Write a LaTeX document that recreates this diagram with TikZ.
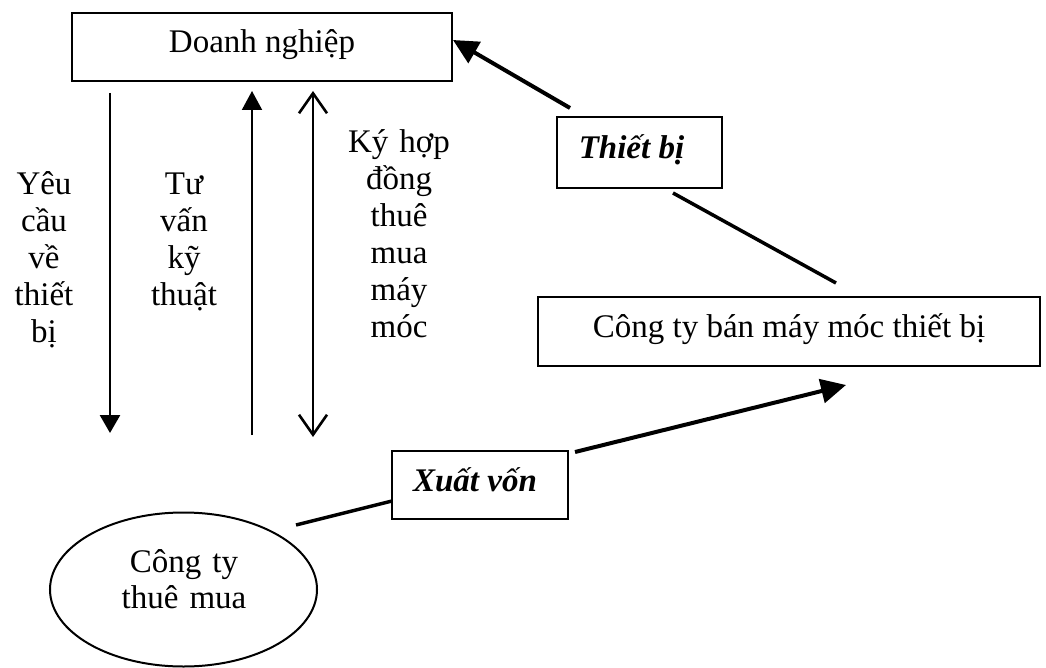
\documentclass[tikz,border=0pt]{standalone}
\usepackage{fontspec}
\setmainfont{Liberation Serif}
\usetikzlibrary{arrows.meta,shapes.geometric}
\AtBeginDocument{\setlength{\lineskiplimit}{-100pt}\setlength{\lineskip}{0pt}}
\begin{document}
\begin{tikzpicture}[x=1pt,y=-1pt,
  bigfont/.style={font=\fontsize{33}{37}\selectfont},
  box/.style={draw,line width=2pt,inner sep=0pt,text height=20pt,text depth=8pt,bigfont},
  lbl/.style={inner sep=0pt,anchor=base,align=center,text width=200pt,bigfont},
  varrow/.style={line width=2.6pt,-{Triangle[length=18pt,width=20pt]}},
  uarrow/.style={line width=2pt,-{Triangle[length=19pt,width=20pt]}},
  barrow/.style={line width=2.6pt,{Straight Barb[length=20pt,width=28pt]}-{Straight Barb[length=20pt,width=28pt]}},
  darrow/.style={line width=4pt,-{Triangle[length=25pt,width=24pt]}},
  dline/.style={line width=3.5pt}
]
\useasboundingbox (0,0) rectangle (1046,668);
\fill[white] (0,0) rectangle (1046,668);

% boxes
\node[box,minimum width=380pt,minimum height=68pt] (dn) at (262,47) {Doanh nghiệp};
\node[box,minimum width=165pt,minimum height=71pt] (tb) at (639.5,152.5) {\textbf{\textit{Thiết bị}}\hspace*{16pt}};
\node[box,minimum width=502pt,minimum height=69pt] (ct) at (789,331.5) {Công ty bán máy móc thiết bị};
\node[box,minimum width=176pt,minimum height=68pt] (xv) at (480,485) {\textbf{\textit{Xuất vốn}}\hspace*{10pt}};
\node[draw,ellipse,line width=2pt,minimum width=267pt,minimum height=154pt,inner sep=0pt] (ell) at (183.5,589.5) {};
\node[lbl,font=\fontsize{33}{36}\selectfont] (elltxt) at (184,572) {Công ty\\thuê mua};

% labels
\node[lbl] (lyc) at (44,195) {Yêu\\cầu\\về\\thiết\\bị};
\node[lbl] (ltv) at (184,195) {Tư\\vấn\\kỹ\\thuật};
\node[lbl] (lky) at (399,153) {Ký hợp\\đồng\\thuê\\mua\\máy\\móc};

% vertical arrows
\coordinate (a1s) at (110,93);  \coordinate (a1e) at (110,433);
\coordinate (a2s) at (252,435); \coordinate (a2e) at (252,91);
\coordinate (a3s) at (313,91);  \coordinate (a3e) at (313,437);
\draw[varrow] (a1s) -- (a1e);
\draw[uarrow] (a2s) -- (a2e);
\draw[barrow] (a3s) -- (a3e);

% diagonal connectors
\coordinate (d1s) at (570,108); \coordinate (d1e) at (453,40);
\coordinate (l1s) at (673,193); \coordinate (l1e) at (836,283);
\coordinate (l2s) at (296,525); \coordinate (l2e) at (392,501);
\coordinate (d2s) at (575,452); \coordinate (d2e) at (846,385);
\draw[darrow] (d1s) -- (d1e);
\draw[dline] (l1s) -- (l1e);
\draw[dline] (l2s) -- (l2e);
\draw[darrow] (d2s) -- (d2e);
\end{tikzpicture}
\end{document}
